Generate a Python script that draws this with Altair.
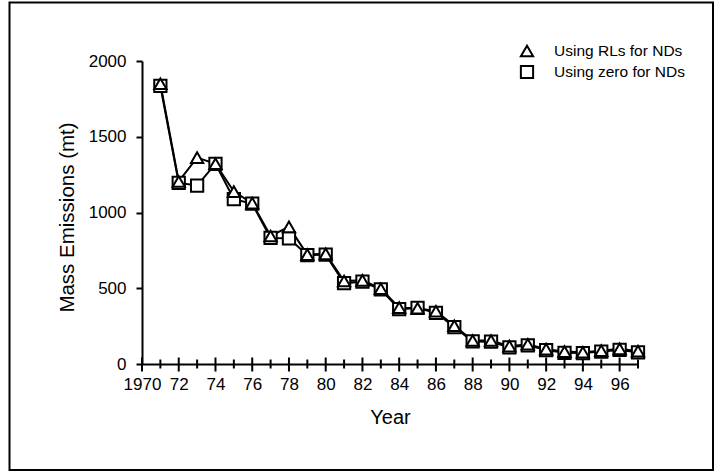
import altair as alt
import pandas as pd

years = list(range(1971, 1998))
rl_values = [1850, 1205, 1362, 1322, 1138, 1062, 845, 905, 722, 727, 548, 552, 497,
             372, 368, 348, 252, 155, 155, 118, 130, 98, 82, 78, 88, 100, 85]
zero_values = [1835, 1195, 1178, 1321, 1088, 1058, 832, 830, 718, 722, 534, 543, 493,
               362, 370, 338, 244, 149, 147, 110, 123, 92, 74, 72, 82, 93, 77]
series_names = ["Using RLs for NDs", "Using zero for NDs"]
series_shapes = ["triangle-up", "square"]
major_years = list(range(1970, 1998, 2))
minor_years = list(range(1971, 1998, 2))
y_ticks = [0, 500, 1000, 1500, 2000]

W, H = 496, 303

rows = []
for y, v in zip(years, zero_values):
    rows.append({"year": y, "value": v, "series": series_names[1]})
for y, v in zip(years, rl_values):
    rows.append({"year": y, "value": v, "series": series_names[0]})
df = pd.DataFrame(rows)

xscale = alt.Scale(domain=[1970, 1997], nice=False, zero=False)
yscale = alt.Scale(domain=[0, 2000], nice=False)
shape_scale = alt.Scale(domain=series_names, range=series_shapes)

x_axis = alt.Axis(
    title="Year", values=major_years, ticks=False, grid=False,
    labelExpr="datum.value == 1970 ? '1970' : slice(toString(datum.value), 2)",
    labelOverlap=False, labelBound=False, labelFlush=False,
    labelPadding=12, labelFontSize=17, titleFontSize=20, titlePadding=15,
    titleFontWeight="normal", domainColor="black", domainWidth=2,
    labelColor="black", titleColor="black",
)
y_axis = alt.Axis(
    title="Mass Emissions (mt)", values=y_ticks, format="d", grid=False, tickSize=6,
    tickWidth=2, tickColor="black", labelPadding=10, labelFontSize=17,
    titleFontSize=20.5, titlePadding=11, titleFontWeight="normal", titleY=156,
    domainColor="black", domainWidth=2, labelColor="black", titleColor="black",
)

lines = alt.Chart(df).mark_line(color="black", strokeWidth=2).encode(
    x=alt.X("year:Q", scale=xscale, axis=x_axis),
    y=alt.Y("value:Q", scale=yscale, axis=y_axis),
    detail="series:N",
)

points = alt.Chart(df).mark_point(
    filled=False, fill="white", color="black", strokeWidth=2, size=150, opacity=1
).encode(
    x=alt.X("year:Q", scale=xscale, axis=x_axis),
    y=alt.Y("value:Q", scale=yscale, axis=y_axis),
    shape=alt.Shape("series:N", scale=shape_scale, legend=None),
)

# legend drawn from the same names / shapes
legend_layers = []
for i, (name, shp) in enumerate(zip(series_names, series_shapes)):
    ypos = -10 + 21 * i
    d = pd.DataFrame({"series": [name]})
    legend_layers.append(
        alt.Chart(d).mark_point(
            filled=False, fill="white", color="black", strokeWidth=2, size=150,
            opacity=1, shape=shp,
        ).encode(x=alt.value(385), y=alt.value(ypos))
    )
    legend_layers.append(
        alt.Chart(d).mark_text(
            align="left", baseline="middle", fontSize=15.5, color="black"
        ).encode(x=alt.value(412), y=alt.value(ypos), text="series:N")
    )

ticks_major = alt.Chart(pd.DataFrame({"year": major_years})).mark_rule(
    color="black", strokeWidth=2
).encode(x=alt.X("year:Q", scale=xscale, axis=x_axis), y=alt.value(H - 6.5), y2=alt.value(H + 7.5))

ticks_minor = alt.Chart(pd.DataFrame({"year": minor_years})).mark_rule(
    color="black", strokeWidth=2
).encode(x=alt.X("year:Q", scale=xscale, axis=x_axis), y=alt.value(H - 4.5), y2=alt.value(H + 4.5))

border = alt.Chart(pd.DataFrame({"b": [0]})).mark_rect(
    filled=False, stroke="black", strokeWidth=2
).encode(
    x=alt.value(-132.5), x2=alt.value(571), y=alt.value(-58.5), y2=alt.value(409)
)

chart = alt.layer(border, ticks_major, ticks_minor, lines, points, *legend_layers).properties(
    width=W, height=H,
    padding={"left": 142, "top": 61, "right": 78, "bottom": 107},
    autosize=alt.AutoSizeParams(type="none"),
).configure(
    font="Liberation Sans",
    background="white",
).configure_view(stroke=None)

chart.save("out.html", embed_options={"renderer": "svg", "actions": False})
